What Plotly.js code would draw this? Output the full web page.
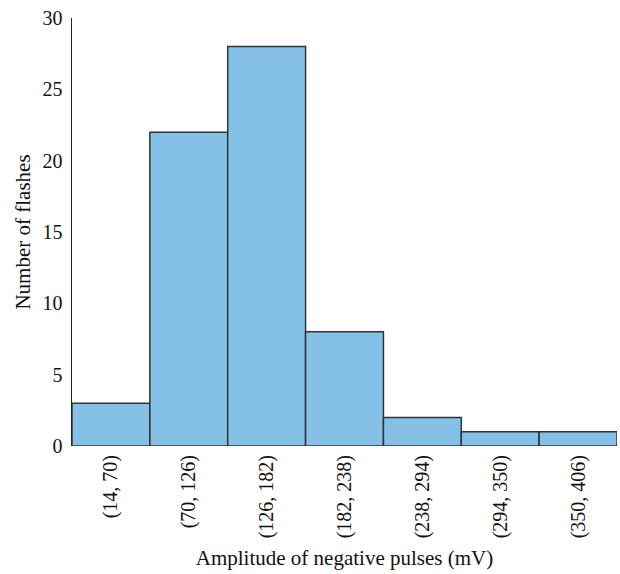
<!DOCTYPE html>
<html>
<head>
<meta charset="utf-8">
<script src="https://cdn.plot.ly/plotly-3.0.1.min.js"></script>
<style>html,body{margin:0;padding:0;background:#fff;}#chart{width:620px;height:574px;}</style>
</head>
<body>
<div id="chart"></div>
<script>
const categories = ["(14, 70)", "(70, 126)", "(126, 182)", "(182, 238)", "(238, 294)", "(294, 350)", "(350, 406)"];
const counts = [3, 22, 28, 8, 2, 1, 1];
const yTicks = [0, 5, 10, 15, 20, 25, 30];

const trace = {
  type: "bar",
  x: categories,
  y: counts,
  marker: {color: "#85C1E6", line: {color: "#333333", width: 1.5}},
  hoverinfo: "none"
};

const font = {family: "Liberation Serif, DejaVu Serif, serif", size: 20, color: "#111"};
const titleFont = {family: "Liberation Serif, DejaVu Serif, serif", size: 21, color: "#111"};

const layout = {
  width: 620, height: 574,
  margin: {l: 72, r: 3, t: 18, b: 128},
  paper_bgcolor: "#fff", plot_bgcolor: "#fff",
  font: font,
  bargap: 0,
  showlegend: false,
  xaxis: {
    type: "category",
    tickangle: -90,
    showline: false, showgrid: false, zeroline: false,
    ticks: "",
    ticklen: 0,
    ticklabelstandoff: 4,
    tickfont: font,
    automargin: false,
    title: {text: "Amplitude of negative pulses (mV)", font: titleFont, standoff: 12}
  },
  yaxis: {
    range: [0, 30],
    tickvals: yTicks,
    ticktext: yTicks.map(String),
    showline: true, linecolor: "#222", linewidth: 1.5,
    showgrid: false, zeroline: false,
    ticks: "",
    ticklabelstandoff: 4,
    tickfont: font,
    automargin: false,
    title: {text: "Number of flashes", font: titleFont, standoff: 6}
  }
};

Plotly.newPlot("chart", [trace], layout, {displayModeBar: false, staticPlot: true});
</script>
</body>
</html>
